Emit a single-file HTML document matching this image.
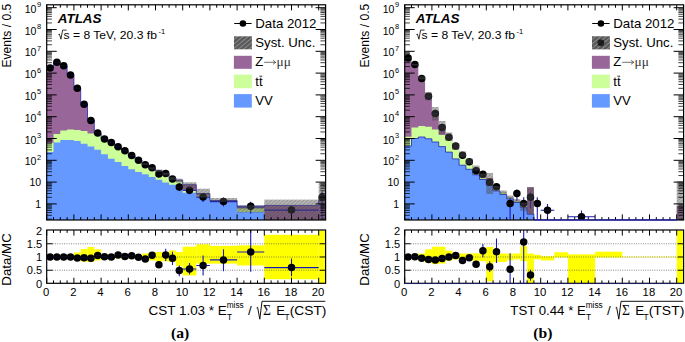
<!DOCTYPE html>
<html><head><meta charset="utf-8"><title>ATLAS plots</title>
<style>html,body{margin:0;padding:0;background:#fff;}svg{display:block;}text{font-family:"Liberation Sans",sans-serif;}</style></head><body>
<svg width="685" height="342" viewBox="0 0 685 342">
<defs><pattern id="hatch" width="2.6" height="2.6" patternUnits="userSpaceOnUse" patternTransform="rotate(-40)"><rect width="2.6" height="2.6" fill="#505050" fill-opacity="0.40"/><rect width="2.6" height="1.0" fill="#3c3c3c" fill-opacity="0.30"/></pattern><pattern id="hatchL" width="3.4" height="3.4" patternUnits="userSpaceOnUse" patternTransform="rotate(-40)"><rect width="3.4" height="3.4" fill="#5a5a5a"/><rect width="3.4" height="0.9" fill="#8e8e8e"/></pattern></defs>
<rect width="685" height="342" fill="#fff"/>
<g>
<clipPath id="cua"><rect x="46.7" y="4.8" width="278.9" height="215.2"/></clipPath>
<clipPath id="cla"><rect x="46.7" y="230" width="278.9" height="53.3"/></clipPath>
<g clip-path="url(#cua)">
<path d="M46.7 220 L46.7 68.1 L53.5 68.1 L53.5 62.3 L60.3 62.3 L60.3 65.8 L67.1 65.8 L67.1 74.9 L73.9 74.9 L73.9 87.8 L80.7 87.8 L80.7 104 L87.5 104 L87.5 120 L94.3 120 L94.3 133.4 L101.1 133.4 L101.1 139.1 L107.9 139.1 L107.9 142.6 L114.7 142.6 L114.7 147.5 L121.5 147.5 L121.5 151 L128.3 151 L128.3 156 L135.1 156 L135.1 160.1 L141.9 160.1 L141.9 164 L148.7 164 L148.7 168.5 L155.5 168.5 L155.5 170.8 L162.3 170.8 L162.3 174.1 L169.1 174.1 L169.1 178.6 L175.9 178.6 L175.9 180.2 L182.7 180.2 L182.7 184.7 L196.3 184.7 L196.3 193.6 L209.9 193.6 L209.9 200.5 L237.1 200.5 L237.1 207.3 L264.3 207.3 L264.3 205.4 L318.7 205.4 L318.7 200 L325.5 200 L325.5 220 Z" fill="#996699"/>
<path d="M46.7 220 L46.7 143.1 L53.5 143.1 L53.5 134.1 L60.3 134.1 L60.3 130.6 L67.1 130.6 L67.1 129.4 L73.9 129.4 L73.9 129.9 L80.7 129.9 L80.7 131.1 L87.5 131.1 L87.5 133.4 L94.3 133.4 L94.3 135 L101.1 135 L101.1 139.6 L107.9 139.6 L107.9 143.1 L114.7 143.1 L114.7 148 L121.5 148 L121.5 151.5 L128.3 151.5 L128.3 156.5 L135.1 156.5 L135.1 160.6 L141.9 160.6 L141.9 164.5 L148.7 164.5 L148.7 169 L155.5 169 L155.5 171.3 L162.3 171.3 L162.3 174.6 L169.1 174.6 L169.1 179.1 L175.9 179.1 L175.9 181.5 L182.7 181.5 L182.7 191 L196.3 191 L196.3 195.5 L209.9 195.5 L209.9 200.9 L237.1 200.9 L237.1 208.6 L264.3 208.6 L264.3 220 L318.7 220 L318.7 220 L325.5 220 L325.5 220 Z" fill="#ccff99"/>
<path d="M46.7 220 L46.7 152 L53.5 152 L53.5 142.5 L60.3 142.5 L60.3 140 L67.1 140 L67.1 140 L73.9 140 L73.9 141.1 L80.7 141.1 L80.7 143.7 L87.5 143.7 L87.5 146.6 L94.3 146.6 L94.3 149.8 L101.1 149.8 L101.1 154.3 L107.9 154.3 L107.9 158.7 L114.7 158.7 L114.7 161.9 L121.5 161.9 L121.5 166 L128.3 166 L128.3 169.3 L135.1 169.3 L135.1 172 L141.9 172 L141.9 174.3 L148.7 174.3 L148.7 177 L155.5 177 L155.5 179.8 L162.3 179.8 L162.3 182.5 L169.1 182.5 L169.1 184.8 L175.9 184.8 L175.9 186 L182.7 186 L182.7 192.8 L196.3 192.8 L196.3 196.7 L209.9 196.7 L209.9 201.8 L237.1 201.8 L237.1 212 L264.3 212 L264.3 220 L318.7 220 L318.7 220 L325.5 220 L325.5 220 Z" fill="#6699ff"/>
<path d="M46.7 68.1 L53.5 68.1 L53.5 62.3 L60.3 62.3 L60.3 65.8 L67.1 65.8 L67.1 74.9 L73.9 74.9 L73.9 87.8 L80.7 87.8 L80.7 104 L87.5 104 L87.5 120 L94.3 120 L94.3 133.4 L101.1 133.4 L101.1 139.1 L107.9 139.1 L107.9 142.6 L114.7 142.6 L114.7 147.5 L121.5 147.5 L121.5 151 L128.3 151 L128.3 156 L135.1 156 L135.1 160.1 L141.9 160.1 L141.9 164 L148.7 164 L148.7 168.5 L155.5 168.5 L155.5 170.8 L162.3 170.8 L162.3 174.1 L169.1 174.1 L169.1 178.6 L175.9 178.6 L175.9 180.2 L182.7 180.2 L182.7 184.7 L196.3 184.7 L196.3 193.6 L209.9 193.6 L209.9 200.5 L237.1 200.5 L237.1 207.3 L264.3 207.3 L264.3 205.4 L318.7 205.4 L318.7 200 L325.5 200" fill="none" stroke="#2424b4" stroke-width="0.8"/>
<path d="M158.9 172.1 V176.1 M165.7 171.5 V175.5 M172.5 176.6 V181.6 M179.3 183.4 V190.9 M189.5 187.3 V194.3 M182.7 190.3 H196.3 M203.1 193.1 V202.1 M196.3 197.1 H209.9 M223.5 197.6 V206.6 M209.9 201.6 H237.1 M250.7 201.7 V213.7 M237.1 206.2 H264.3 M291.5 206.1 V216.1 M264.3 210.1 H318.7 M322.1 191.4 V219.4" stroke="#1a1ab8" stroke-width="1.1" fill="none"/>
<circle cx="50.1" cy="68.1" r="3.75" fill="#000"/>
<circle cx="56.9" cy="62.3" r="3.75" fill="#000"/>
<circle cx="63.7" cy="65.8" r="3.75" fill="#000"/>
<circle cx="70.5" cy="74.9" r="3.75" fill="#000"/>
<circle cx="77.3" cy="88.3" r="3.75" fill="#000"/>
<circle cx="84.1" cy="104.3" r="3.75" fill="#000"/>
<circle cx="90.9" cy="120.5" r="3.75" fill="#000"/>
<circle cx="97.7" cy="132.9" r="3.75" fill="#000"/>
<circle cx="104.5" cy="139" r="3.75" fill="#000"/>
<circle cx="111.3" cy="142.6" r="3.75" fill="#000"/>
<circle cx="118.1" cy="146.8" r="3.75" fill="#000"/>
<circle cx="124.9" cy="150.8" r="3.75" fill="#000"/>
<circle cx="131.7" cy="155.5" r="3.75" fill="#000"/>
<circle cx="138.5" cy="160.2" r="3.75" fill="#000"/>
<circle cx="145.3" cy="164.8" r="3.75" fill="#000"/>
<circle cx="152.1" cy="167.8" r="3.75" fill="#000"/>
<circle cx="158.9" cy="174.1" r="3.75" fill="#000"/>
<circle cx="165.7" cy="173.5" r="3.75" fill="#000"/>
<circle cx="172.5" cy="179.1" r="3.75" fill="#000"/>
<circle cx="179.3" cy="186.9" r="3.75" fill="#000"/>
<circle cx="189.5" cy="190.3" r="3.75" fill="#000"/>
<circle cx="203.1" cy="197.1" r="3.75" fill="#000"/>
<circle cx="223.5" cy="201.6" r="3.75" fill="#000"/>
<circle cx="250.7" cy="206.2" r="3.75" fill="#000"/>
<circle cx="291.5" cy="210.1" r="3.75" fill="#000"/>
<circle cx="322.1" cy="197.4" r="3.75" fill="#000"/>
<path d="M46.9 68.1 H53.3 M53.7 62.3 H60.1 M60.5 65.8 H66.9 M67.3 74.9 H73.7 M74.1 88.3 H80.5 M80.9 104.3 H87.3 M87.7 120.5 H94.1 M94.5 132.9 H100.9 M101.3 139 H107.7 M108.1 142.6 H114.5 M114.9 146.8 H121.3 M121.7 150.8 H128.1 M128.5 155.5 H134.9 M135.3 160.2 H141.7 M142.1 164.8 H148.5 M148.9 167.8 H155.3 M155.7 174.1 H162.1 M162.5 173.5 H168.9 M169.3 179.1 H175.7 M176.1 186.9 H182.5 M186.3 190.3 H192.7 M199.9 197.1 H206.3 M220.3 201.6 H226.7 M247.5 206.2 H253.9 M288.3 210.1 H294.7 M318.9 197.4 H325.3" stroke="#20208c" stroke-width="0.9" stroke-opacity="0.35" fill="none"/>
<rect x="141.9" y="163.2" width="6.8" height="1.6" fill="url(#hatch)"/>
<rect x="148.7" y="167.5" width="6.8" height="1.9" fill="url(#hatch)"/>
<rect x="155.5" y="169.5" width="6.8" height="2.5" fill="url(#hatch)"/>
<rect x="162.3" y="172.6" width="6.8" height="2.8" fill="url(#hatch)"/>
<rect x="169.1" y="176.8" width="6.8" height="3.4" fill="url(#hatch)"/>
<rect x="175.9" y="178.6" width="6.8" height="4" fill="url(#hatch)"/>
<rect x="182.7" y="182.3" width="13.6" height="6.4" fill="url(#hatch)"/>
<rect x="196.3" y="188.7" width="13.6" height="8.8" fill="url(#hatch)"/>
<rect x="209.9" y="198" width="27.2" height="3.7" fill="url(#hatch)"/>
<rect x="237.1" y="205.3" width="27.2" height="7.2" fill="url(#hatch)"/>
<rect x="264.3" y="199.6" width="54.4" height="20.4" fill="url(#hatch)"/>
<rect x="318.7" y="182.5" width="6.8" height="37.5" fill="url(#hatch)"/>
</g>
<g clip-path="url(#cla)">
<rect x="46.7" y="256.47" width="6.8" height="1.06" fill="#ffff00"/>
<rect x="53.5" y="256.47" width="6.8" height="1.06" fill="#ffff00"/>
<rect x="60.3" y="256.47" width="6.8" height="1.06" fill="#ffff00"/>
<rect x="67.1" y="256.21" width="6.8" height="1.59" fill="#ffff00"/>
<rect x="73.9" y="252.5" width="6.8" height="8.46" fill="#ffff00"/>
<rect x="80.7" y="249.06" width="6.8" height="12.43" fill="#ffff00"/>
<rect x="87.5" y="246.95" width="6.8" height="15.08" fill="#ffff00"/>
<rect x="94.3" y="249.33" width="6.8" height="11.11" fill="#ffff00"/>
<rect x="101.1" y="255.68" width="6.8" height="2.65" fill="#ffff00"/>
<rect x="107.9" y="255.68" width="6.8" height="2.65" fill="#ffff00"/>
<rect x="114.7" y="255.68" width="6.8" height="2.65" fill="#ffff00"/>
<rect x="121.5" y="255.68" width="6.8" height="2.65" fill="#ffff00"/>
<rect x="128.3" y="255.41" width="6.8" height="3.17" fill="#ffff00"/>
<rect x="135.1" y="254.88" width="6.8" height="4.23" fill="#ffff00"/>
<rect x="141.9" y="253.56" width="6.8" height="6.08" fill="#ffff00"/>
<rect x="148.7" y="251.97" width="6.8" height="8.46" fill="#ffff00"/>
<rect x="155.5" y="251.97" width="6.8" height="9.26" fill="#ffff00"/>
<rect x="162.3" y="251.97" width="6.8" height="9.26" fill="#ffff00"/>
<rect x="169.1" y="250.39" width="6.8" height="11.64" fill="#ffff00"/>
<rect x="175.9" y="251.97" width="6.8" height="14.28" fill="#ffff00"/>
<rect x="182.7" y="246.68" width="13.6" height="28.83" fill="#ffff00"/>
<rect x="196.3" y="244.3" width="13.6" height="19.31" fill="#ffff00"/>
<rect x="209.9" y="245.89" width="27.2" height="17.72" fill="#ffff00"/>
<rect x="237.1" y="245.36" width="27.2" height="20.1" fill="#ffff00"/>
<rect x="264.3" y="234.78" width="54.4" height="44.44" fill="#ffff00"/>
<rect x="318.7" y="230.55" width="6.8" height="55.54" fill="#ffff00"/>
</g>
<path d="M52.7 270.22 H319.6" stroke="#3a3a3a" stroke-width="0.8" stroke-opacity="0.85" stroke-dasharray="0.9 1.4" fill="none"/>
<path d="M52.7 257 H319.6" stroke="#3a3a3a" stroke-width="0.8" stroke-opacity="0.85" stroke-dasharray="0.9 1.4" fill="none"/>
<path d="M52.7 243.77 H319.6" stroke="#3a3a3a" stroke-width="0.8" stroke-opacity="0.85" stroke-dasharray="0.9 1.4" fill="none"/>
<g clip-path="url(#cla)">
<path d="M145.3 257.79 V260.44 M152.1 253.56 V256.74 M158.9 262.03 V267.32 M165.7 248.8 V260.97 M172.5 251.71 V264.94 M179.3 265.46 V276.31 M189.5 262.95 V274.59 M182.7 269.03 H196.3 M203.1 255.41 V275.51 M196.3 265.46 H209.9 M223.5 249.33 V271.28 M209.9 259.91 H237.1 M250.7 228.17 V271.81 M237.1 251.97 H264.3 M291.5 258.59 V276.31 M264.3 267.58 H318.7" stroke="#1a1ab8" stroke-width="1.1" fill="none"/>
<circle cx="50.1" cy="257" r="3.75" fill="#000"/>
<circle cx="56.9" cy="257" r="3.75" fill="#000"/>
<circle cx="63.7" cy="257" r="3.75" fill="#000"/>
<circle cx="70.5" cy="257" r="3.75" fill="#000"/>
<circle cx="77.3" cy="258.06" r="3.75" fill="#000"/>
<circle cx="84.1" cy="257.79" r="3.75" fill="#000"/>
<circle cx="90.9" cy="258.32" r="3.75" fill="#000"/>
<circle cx="97.7" cy="255.41" r="3.75" fill="#000"/>
<circle cx="104.5" cy="256.74" r="3.75" fill="#000"/>
<circle cx="111.3" cy="257" r="3.75" fill="#000"/>
<circle cx="118.1" cy="254.88" r="3.75" fill="#000"/>
<circle cx="124.9" cy="256.47" r="3.75" fill="#000"/>
<circle cx="131.7" cy="255.68" r="3.75" fill="#000"/>
<circle cx="138.5" cy="257.26" r="3.75" fill="#000"/>
<circle cx="145.3" cy="259.12" r="3.75" fill="#000"/>
<circle cx="152.1" cy="255.15" r="3.75" fill="#000"/>
<circle cx="158.9" cy="264.67" r="3.75" fill="#000"/>
<circle cx="165.7" cy="254.88" r="3.75" fill="#000"/>
<circle cx="172.5" cy="258.32" r="3.75" fill="#000"/>
<circle cx="179.3" cy="270.49" r="3.75" fill="#000"/>
<circle cx="189.5" cy="269.03" r="3.75" fill="#000"/>
<circle cx="203.1" cy="265.46" r="3.75" fill="#000"/>
<circle cx="223.5" cy="259.91" r="3.75" fill="#000"/>
<circle cx="250.7" cy="251.97" r="3.75" fill="#000"/>
<circle cx="291.5" cy="267.58" r="3.75" fill="#000"/>
<path d="M46.9 257 H53.3 M53.7 257 H60.1 M60.5 257 H66.9 M67.3 257 H73.7 M74.1 258.06 H80.5 M80.9 257.79 H87.3 M87.7 258.32 H94.1 M94.5 255.41 H100.9 M101.3 256.74 H107.7 M108.1 257 H114.5 M114.9 254.88 H121.3 M121.7 256.47 H128.1 M128.5 255.68 H134.9 M135.3 257.26 H141.7 M142.1 259.12 H148.5 M148.9 255.15 H155.3 M155.7 264.67 H162.1 M162.5 254.88 H168.9 M169.3 258.32 H175.7 M176.1 270.49 H182.5 M186.3 269.03 H192.7 M199.9 265.46 H206.3 M220.3 259.91 H226.7 M247.5 251.97 H253.9 M288.3 267.58 H294.7" stroke="#20208c" stroke-width="0.9" stroke-opacity="0.35" fill="none"/>
</g>
<path d="M46.7 219.14 H51.9 M325.6 219.14 H320.4 M46.7 215.3 H51.9 M325.6 215.3 H320.4 M46.7 212.58 H51.9 M325.6 212.58 H320.4 M46.7 210.46 H51.9 M325.6 210.46 H320.4 M46.7 208.74 H51.9 M325.6 208.74 H320.4 M46.7 207.28 H51.9 M325.6 207.28 H320.4 M46.7 206.01 H51.9 M325.6 206.01 H320.4 M46.7 204.9 H51.9 M325.6 204.9 H320.4 M46.7 197.34 H51.9 M325.6 197.34 H320.4 M46.7 193.5 H51.9 M325.6 193.5 H320.4 M46.7 190.78 H51.9 M325.6 190.78 H320.4 M46.7 188.66 H51.9 M325.6 188.66 H320.4 M46.7 186.94 H51.9 M325.6 186.94 H320.4 M46.7 185.48 H51.9 M325.6 185.48 H320.4 M46.7 184.21 H51.9 M325.6 184.21 H320.4 M46.7 183.1 H51.9 M325.6 183.1 H320.4 M46.7 175.54 H51.9 M325.6 175.54 H320.4 M46.7 171.7 H51.9 M325.6 171.7 H320.4 M46.7 168.98 H51.9 M325.6 168.98 H320.4 M46.7 166.86 H51.9 M325.6 166.86 H320.4 M46.7 165.14 H51.9 M325.6 165.14 H320.4 M46.7 163.68 H51.9 M325.6 163.68 H320.4 M46.7 162.41 H51.9 M325.6 162.41 H320.4 M46.7 161.3 H51.9 M325.6 161.3 H320.4 M46.7 153.74 H51.9 M325.6 153.74 H320.4 M46.7 149.9 H51.9 M325.6 149.9 H320.4 M46.7 147.18 H51.9 M325.6 147.18 H320.4 M46.7 145.06 H51.9 M325.6 145.06 H320.4 M46.7 143.34 H51.9 M325.6 143.34 H320.4 M46.7 141.88 H51.9 M325.6 141.88 H320.4 M46.7 140.61 H51.9 M325.6 140.61 H320.4 M46.7 139.5 H51.9 M325.6 139.5 H320.4 M46.7 131.94 H51.9 M325.6 131.94 H320.4 M46.7 128.1 H51.9 M325.6 128.1 H320.4 M46.7 125.38 H51.9 M325.6 125.38 H320.4 M46.7 123.26 H51.9 M325.6 123.26 H320.4 M46.7 121.54 H51.9 M325.6 121.54 H320.4 M46.7 120.08 H51.9 M325.6 120.08 H320.4 M46.7 118.81 H51.9 M325.6 118.81 H320.4 M46.7 117.7 H51.9 M325.6 117.7 H320.4 M46.7 110.14 H51.9 M325.6 110.14 H320.4 M46.7 106.3 H51.9 M325.6 106.3 H320.4 M46.7 103.58 H51.9 M325.6 103.58 H320.4 M46.7 101.46 H51.9 M325.6 101.46 H320.4 M46.7 99.74 H51.9 M325.6 99.74 H320.4 M46.7 98.28 H51.9 M325.6 98.28 H320.4 M46.7 97.01 H51.9 M325.6 97.01 H320.4 M46.7 95.9 H51.9 M325.6 95.9 H320.4 M46.7 88.34 H51.9 M325.6 88.34 H320.4 M46.7 84.5 H51.9 M325.6 84.5 H320.4 M46.7 81.78 H51.9 M325.6 81.78 H320.4 M46.7 79.66 H51.9 M325.6 79.66 H320.4 M46.7 77.94 H51.9 M325.6 77.94 H320.4 M46.7 76.48 H51.9 M325.6 76.48 H320.4 M46.7 75.21 H51.9 M325.6 75.21 H320.4 M46.7 74.1 H51.9 M325.6 74.1 H320.4 M46.7 66.54 H51.9 M325.6 66.54 H320.4 M46.7 62.7 H51.9 M325.6 62.7 H320.4 M46.7 59.98 H51.9 M325.6 59.98 H320.4 M46.7 57.86 H51.9 M325.6 57.86 H320.4 M46.7 56.14 H51.9 M325.6 56.14 H320.4 M46.7 54.68 H51.9 M325.6 54.68 H320.4 M46.7 53.41 H51.9 M325.6 53.41 H320.4 M46.7 52.3 H51.9 M325.6 52.3 H320.4 M46.7 44.74 H51.9 M325.6 44.74 H320.4 M46.7 40.9 H51.9 M325.6 40.9 H320.4 M46.7 38.18 H51.9 M325.6 38.18 H320.4 M46.7 36.06 H51.9 M325.6 36.06 H320.4 M46.7 34.34 H51.9 M325.6 34.34 H320.4 M46.7 32.88 H51.9 M325.6 32.88 H320.4 M46.7 31.61 H51.9 M325.6 31.61 H320.4 M46.7 30.5 H51.9 M325.6 30.5 H320.4 M46.7 22.94 H51.9 M325.6 22.94 H320.4 M46.7 19.1 H51.9 M325.6 19.1 H320.4 M46.7 16.38 H51.9 M325.6 16.38 H320.4 M46.7 14.26 H51.9 M325.6 14.26 H320.4 M46.7 12.54 H51.9 M325.6 12.54 H320.4 M46.7 11.08 H51.9 M325.6 11.08 H320.4 M46.7 9.81 H51.9 M325.6 9.81 H320.4 M46.7 8.7 H51.9 M325.6 8.7 H320.4" stroke="#000" stroke-width="0.75" fill="none"/>
<path d="M46.7 220 V214.4 M46.7 4.8 V10.4 M46.7 283.3 V277.7 M46.7 230 V235.6 M53.5 220 V217.1 M53.5 4.8 V7.7 M53.5 283.3 V280.4 M53.5 230 V232.9 M60.3 220 V217.1 M60.3 4.8 V7.7 M60.3 283.3 V280.4 M60.3 230 V232.9 M67.1 220 V217.1 M67.1 4.8 V7.7 M67.1 283.3 V280.4 M67.1 230 V232.9 M73.9 220 V214.4 M73.9 4.8 V10.4 M73.9 283.3 V277.7 M73.9 230 V235.6 M80.7 220 V217.1 M80.7 4.8 V7.7 M80.7 283.3 V280.4 M80.7 230 V232.9 M87.5 220 V217.1 M87.5 4.8 V7.7 M87.5 283.3 V280.4 M87.5 230 V232.9 M94.3 220 V217.1 M94.3 4.8 V7.7 M94.3 283.3 V280.4 M94.3 230 V232.9 M101.1 220 V214.4 M101.1 4.8 V10.4 M101.1 283.3 V277.7 M101.1 230 V235.6 M107.9 220 V217.1 M107.9 4.8 V7.7 M107.9 283.3 V280.4 M107.9 230 V232.9 M114.7 220 V217.1 M114.7 4.8 V7.7 M114.7 283.3 V280.4 M114.7 230 V232.9 M121.5 220 V217.1 M121.5 4.8 V7.7 M121.5 283.3 V280.4 M121.5 230 V232.9 M128.3 220 V214.4 M128.3 4.8 V10.4 M128.3 283.3 V277.7 M128.3 230 V235.6 M135.1 220 V217.1 M135.1 4.8 V7.7 M135.1 283.3 V280.4 M135.1 230 V232.9 M141.9 220 V217.1 M141.9 4.8 V7.7 M141.9 283.3 V280.4 M141.9 230 V232.9 M148.7 220 V217.1 M148.7 4.8 V7.7 M148.7 283.3 V280.4 M148.7 230 V232.9 M155.5 220 V214.4 M155.5 4.8 V10.4 M155.5 283.3 V277.7 M155.5 230 V235.6 M162.3 220 V217.1 M162.3 4.8 V7.7 M162.3 283.3 V280.4 M162.3 230 V232.9 M169.1 220 V217.1 M169.1 4.8 V7.7 M169.1 283.3 V280.4 M169.1 230 V232.9 M175.9 220 V217.1 M175.9 4.8 V7.7 M175.9 283.3 V280.4 M175.9 230 V232.9 M182.7 220 V214.4 M182.7 4.8 V10.4 M182.7 283.3 V277.7 M182.7 230 V235.6 M189.5 220 V217.1 M189.5 4.8 V7.7 M189.5 283.3 V280.4 M189.5 230 V232.9 M196.3 220 V217.1 M196.3 4.8 V7.7 M196.3 283.3 V280.4 M196.3 230 V232.9 M203.1 220 V217.1 M203.1 4.8 V7.7 M203.1 283.3 V280.4 M203.1 230 V232.9 M209.9 220 V214.4 M209.9 4.8 V10.4 M209.9 283.3 V277.7 M209.9 230 V235.6 M216.7 220 V217.1 M216.7 4.8 V7.7 M216.7 283.3 V280.4 M216.7 230 V232.9 M223.5 220 V217.1 M223.5 4.8 V7.7 M223.5 283.3 V280.4 M223.5 230 V232.9 M230.3 220 V217.1 M230.3 4.8 V7.7 M230.3 283.3 V280.4 M230.3 230 V232.9 M237.1 220 V214.4 M237.1 4.8 V10.4 M237.1 283.3 V277.7 M237.1 230 V235.6 M243.9 220 V217.1 M243.9 4.8 V7.7 M243.9 283.3 V280.4 M243.9 230 V232.9 M250.7 220 V217.1 M250.7 4.8 V7.7 M250.7 283.3 V280.4 M250.7 230 V232.9 M257.5 220 V217.1 M257.5 4.8 V7.7 M257.5 283.3 V280.4 M257.5 230 V232.9 M264.3 220 V214.4 M264.3 4.8 V10.4 M264.3 283.3 V277.7 M264.3 230 V235.6 M271.1 220 V217.1 M271.1 4.8 V7.7 M271.1 283.3 V280.4 M271.1 230 V232.9 M277.9 220 V217.1 M277.9 4.8 V7.7 M277.9 283.3 V280.4 M277.9 230 V232.9 M284.7 220 V217.1 M284.7 4.8 V7.7 M284.7 283.3 V280.4 M284.7 230 V232.9 M291.5 220 V214.4 M291.5 4.8 V10.4 M291.5 283.3 V277.7 M291.5 230 V235.6 M298.3 220 V217.1 M298.3 4.8 V7.7 M298.3 283.3 V280.4 M298.3 230 V232.9 M305.1 220 V217.1 M305.1 4.8 V7.7 M305.1 283.3 V280.4 M305.1 230 V232.9 M311.9 220 V217.1 M311.9 4.8 V7.7 M311.9 283.3 V280.4 M311.9 230 V232.9 M318.7 220 V214.4 M318.7 4.8 V10.4 M318.7 283.3 V277.7 M318.7 230 V235.6 M46.7 203.9 H56.7 M325.6 203.9 H315.6 M46.7 182.1 H56.7 M325.6 182.1 H315.6 M46.7 160.3 H56.7 M325.6 160.3 H315.6 M46.7 138.5 H56.7 M325.6 138.5 H315.6 M46.7 116.7 H56.7 M325.6 116.7 H315.6 M46.7 94.9 H56.7 M325.6 94.9 H315.6 M46.7 73.1 H56.7 M325.6 73.1 H315.6 M46.7 51.3 H56.7 M325.6 51.3 H315.6 M46.7 29.5 H56.7 M325.6 29.5 H315.6 M46.7 7.7 H56.7 M325.6 7.7 H315.6 M46.7 270.22 H52.7 M325.6 270.22 H319.6 M46.7 257 H52.7 M325.6 257 H319.6 M46.7 243.77 H52.7 M325.6 243.77 H319.6" stroke="#000" stroke-width="1" fill="none"/>
<g stroke="#000" stroke-width="1.2" fill="none">
<rect x="46.7" y="4.8" width="278.9" height="215.2"/>
<rect x="46.7" y="230" width="278.9" height="53.3"/>
</g>
<g font-family="Liberation Sans, sans-serif" fill="#000">
<text x="41.2" y="208.2" font-size="10.5" text-anchor="end">1</text>
<text x="41.2" y="186.4" font-size="10.5" text-anchor="end">10</text>
<text x="36.4" y="165.3" font-size="10.5" text-anchor="end">10</text>
<text x="37.0" y="159.7" font-size="7.4">2</text>
<text x="36.4" y="143.5" font-size="10.5" text-anchor="end">10</text>
<text x="37.0" y="137.9" font-size="7.4">3</text>
<text x="36.4" y="121.7" font-size="10.5" text-anchor="end">10</text>
<text x="37.0" y="116.1" font-size="7.4">4</text>
<text x="36.4" y="99.9" font-size="10.5" text-anchor="end">10</text>
<text x="37.0" y="94.3" font-size="7.4">5</text>
<text x="36.4" y="78.1" font-size="10.5" text-anchor="end">10</text>
<text x="37.0" y="72.5" font-size="7.4">6</text>
<text x="36.4" y="56.3" font-size="10.5" text-anchor="end">10</text>
<text x="37.0" y="50.7" font-size="7.4">7</text>
<text x="36.4" y="34.5" font-size="10.5" text-anchor="end">10</text>
<text x="37.0" y="28.9" font-size="7.4">8</text>
<text x="36.4" y="12.7" font-size="10.5" text-anchor="end">10</text>
<text x="37.0" y="7.1" font-size="7.4">9</text>
<text x="42.2" y="287.5" font-size="11.1" text-anchor="end">0</text>
<text x="42.2" y="274.3" font-size="11.1" text-anchor="end">0.5</text>
<text x="42.2" y="261.1" font-size="11.1" text-anchor="end">1</text>
<text x="42.2" y="248" font-size="11.1" text-anchor="end">1.5</text>
<text x="42.2" y="234.9" font-size="11.1" text-anchor="end">2</text>
<text x="46.1" y="295.5" font-size="11.3" text-anchor="middle">0</text>
<text x="73.3" y="295.5" font-size="11.3" text-anchor="middle">2</text>
<text x="100.5" y="295.5" font-size="11.3" text-anchor="middle">4</text>
<text x="127.7" y="295.5" font-size="11.3" text-anchor="middle">6</text>
<text x="154.9" y="295.5" font-size="11.3" text-anchor="middle">8</text>
<text x="182.1" y="295.5" font-size="11.3" text-anchor="middle">10</text>
<text x="209.3" y="295.5" font-size="11.3" text-anchor="middle">12</text>
<text x="236.5" y="295.5" font-size="11.3" text-anchor="middle">14</text>
<text x="263.7" y="295.5" font-size="11.3" text-anchor="middle">16</text>
<text x="290.9" y="295.5" font-size="11.3" text-anchor="middle">18</text>
<text x="318.1" y="295.5" font-size="11.3" text-anchor="middle">20</text>
<text transform="translate(11.1 67.6) rotate(-90)" font-size="12.1">Events / 0.5</text>
<text transform="translate(11.4 285.7) rotate(-90)" font-size="13.3">Data/MC</text>
<text x="57.8" y="22.9" font-size="13.4" font-weight="bold" font-style="italic">ATLAS</text>
<path d="M58.4 34.6 L59.4 34.0 L60.9 39.2 L62.6 30.1 H66.6" stroke="#000" stroke-width="0.8" fill="none"/>
<text x="63.5" y="39.2" font-size="11.8" textLength="93.4" lengthAdjust="spacingAndGlyphs">s = 8 TeV, 20.3 fb</text>
<text x="158.4" y="33.6" font-size="7.6">-1</text>
<text x="148.5" y="315.4" font-size="13.3" textLength="78.3" lengthAdjust="spacingAndGlyphs">CST 1.03 * E</text>
<text x="226.7" y="307.8" font-size="8.3">miss</text>
<text x="227" y="320.1" font-size="8.3">T</text>
<text x="248" y="315.4" font-size="13.3">/</text>
<path d="M256.6 307.9 L257.6 307.3 L259.8 319.2 L262 301.3 H325.3" stroke="#111" stroke-width="1" fill="none" stroke-linejoin="miter"/>
<text x="263.1" y="315.4" font-size="13.6" style="font-family:'Liberation Serif',serif">&#931;</text>
<text x="276.3" y="315.4" font-size="13.3">E</text>
<text x="284.6" y="320.1" font-size="8.3">T</text>
<text x="289.7" y="315.4" font-size="13.3" textLength="36.7" lengthAdjust="spacingAndGlyphs">(CST)</text>
</g>
<g font-family="Liberation Sans, sans-serif" fill="#000" font-size="13.1">
<path d="M234.2 23.5 H251.6" stroke="#000" stroke-width="1"/>
<circle cx="242.9" cy="23.5" r="3.3" fill="#000"/>
<text x="255.3" y="27.5" textLength="61.2" lengthAdjust="spacingAndGlyphs">Data 2012</text>
<rect x="234" y="36.3" width="17.9" height="13" fill="url(#hatchL)"/>
<text x="255.3" y="47.1" textLength="60" lengthAdjust="spacingAndGlyphs">Syst. Unc.</text>
<rect x="233.9" y="55.8" width="17.9" height="13" fill="#996699"/>
<text x="255.3" y="66.1">Z</text>
<path d="M264.2 62.3 H275.6 M273 60.3 L275.8 62.3 L273 64.3" stroke="#333" stroke-width="0.7" fill="none"/>
<text x="276.6" y="66" font-size="13.4" fill="#333" style="font-family:'Liberation Serif',serif">&#956;&#956;</text>
<rect x="233.9" y="74.6" width="17.9" height="13.6" fill="#ccff99"/>
<text x="255.3" y="86.2">tt</text>
<path d="M259.4 76.2 H262.2" stroke="#000" stroke-width="0.8"/>
<rect x="233.9" y="94.1" width="17.9" height="13.5" fill="#6699ff"/>
<text x="255.3" y="105.2">VV</text>
</g>
</g>
<g transform="translate(358 0)">
<clipPath id="cub"><rect x="46.7" y="4.8" width="278.9" height="215.2"/></clipPath>
<clipPath id="clb"><rect x="46.7" y="230" width="278.9" height="53.3"/></clipPath>
<g clip-path="url(#cub)">
<path d="M46.7 220 L46.7 58.1 L53.5 58.1 L53.5 64.7 L60.3 64.7 L60.3 77.9 L67.1 77.9 L67.1 93.8 L73.9 93.8 L73.9 111.5 L80.7 111.5 L80.7 124.5 L87.5 124.5 L87.5 137.3 L94.3 137.3 L94.3 146.6 L101.1 146.6 L101.1 154 L107.9 154 L107.9 161.4 L114.7 161.4 L114.7 167.8 L121.5 167.8 L121.5 176.3 L128.3 176.3 L128.3 178 L135.1 178 L135.1 188.4 L141.9 188.4 L141.9 192.3 L148.7 192.3 L148.7 197 L155.5 197 L155.5 200.8 L162.3 200.8 L162.3 207 L169.1 207 L169.1 187.2 L175.9 187.2 L175.9 220 L182.7 220 L182.7 220 L196.3 220 L196.3 220 L209.9 220 L209.9 220 L237.1 220 L237.1 220 L264.3 220 L264.3 220 L318.7 220 L318.7 206 L325.5 206 L325.5 220 Z" fill="#996699"/>
<path d="M46.7 220 L46.7 136.7 L53.5 136.7 L53.5 127.6 L60.3 127.6 L60.3 126 L67.1 126 L67.1 126.8 L73.9 126.8 L73.9 129.4 L80.7 129.4 L80.7 135 L87.5 135 L87.5 140 L94.3 140 L94.3 149.5 L101.1 149.5 L101.1 157.5 L107.9 157.5 L107.9 164 L114.7 164 L114.7 170.5 L121.5 170.5 L121.5 177.5 L128.3 177.5 L128.3 183 L135.1 183 L135.1 188.8 L141.9 188.8 L141.9 192.3 L148.7 192.3 L148.7 197.5 L155.5 197.5 L155.5 201.2 L162.3 201.2 L162.3 207 L169.1 207 L169.1 214.2 L175.9 214.2 L175.9 220 L182.7 220 L182.7 220 L196.3 220 L196.3 220 L209.9 220 L209.9 220 L237.1 220 L237.1 220 L264.3 220 L264.3 220 L318.7 220 L318.7 220 L325.5 220 L325.5 220 Z" fill="#ccff99"/>
<path d="M46.7 220 L46.7 146 L53.5 146 L53.5 138.5 L60.3 138.5 L60.3 137 L67.1 137 L67.1 138.8 L73.9 138.8 L73.9 142 L80.7 142 L80.7 146.6 L87.5 146.6 L87.5 152.1 L94.3 152.1 L94.3 158.9 L101.1 158.9 L101.1 165.2 L107.9 165.2 L107.9 169.3 L114.7 169.3 L114.7 174.8 L121.5 174.8 L121.5 179.5 L128.3 179.5 L128.3 185.5 L135.1 185.5 L135.1 190.9 L141.9 190.9 L141.9 194.5 L148.7 194.5 L148.7 198.9 L155.5 198.9 L155.5 202.5 L162.3 202.5 L162.3 207.6 L169.1 207.6 L169.1 214.2 L175.9 214.2 L175.9 220 L182.7 220 L182.7 220 L196.3 220 L196.3 220 L209.9 220 L209.9 220 L237.1 220 L237.1 220 L264.3 220 L264.3 220 L318.7 220 L318.7 220 L325.5 220 L325.5 220 Z" fill="#6699ff"/>
<path d="M46.7 146 L53.5 146 L53.5 138.5 L60.3 138.5 L60.3 137 L67.1 137 L67.1 138.8 L73.9 138.8 L73.9 142 L80.7 142 L80.7 146.6 L87.5 146.6 L87.5 152.1 L94.3 152.1 L94.3 158.9 L101.1 158.9 L101.1 165.2 L107.9 165.2 L107.9 169.3 L114.7 169.3 L114.7 174.8 L121.5 174.8 L121.5 179.5 L128.3 179.5 L128.3 185.5 L135.1 185.5 L135.1 190.9 L141.9 190.9 L141.9 194.5 L148.7 194.5 L148.7 198.9 L155.5 198.9 L155.5 202.5 L162.3 202.5 L162.3 207.6 L169.1 207.6 L169.1 214.2 L175.9 214.2 L175.9 219.8 L182.7 219.8 L182.7 219.8 L196.3 219.8 L196.3 219.8 L209.9 219.8 L209.9 219.8 L237.1 219.8 L237.1 219.8 L264.3 219.8 L264.3 219.8 L318.7 219.8 L318.7 219.8 L325.5 219.8" fill="none" stroke="#2424b4" stroke-width="0.8"/>
<path d="M131.7 180.2 V184.7 M138.5 183.7 V190.2 M152.1 198.1 V219.6 M158.9 189.4 V200.9 M165.7 197.3 V219.6 M172.5 192.7 V208.2 M179.3 197.3 V219.6 M189.5 203.9 V220.2 M182.7 210.2 H196.3 M223.5 210.5 V219.8 M209.9 216.8 H237.1" stroke="#1a1ab8" stroke-width="1.1" fill="none"/>
<circle cx="50.1" cy="58.1" r="3.75" fill="#000"/>
<circle cx="56.9" cy="64.6" r="3.75" fill="#000"/>
<circle cx="63.7" cy="78.4" r="3.75" fill="#000"/>
<circle cx="70.5" cy="96.3" r="3.75" fill="#000"/>
<circle cx="77.3" cy="113.5" r="3.75" fill="#000"/>
<circle cx="84.1" cy="127.4" r="3.75" fill="#000"/>
<circle cx="90.9" cy="137.3" r="3.75" fill="#000"/>
<circle cx="97.7" cy="146" r="3.75" fill="#000"/>
<circle cx="104.5" cy="155.3" r="3.75" fill="#000"/>
<circle cx="111.3" cy="161.7" r="3.75" fill="#000"/>
<circle cx="118.1" cy="170.8" r="3.75" fill="#000"/>
<circle cx="124.9" cy="174.3" r="3.75" fill="#000"/>
<circle cx="131.7" cy="182.2" r="3.75" fill="#000"/>
<circle cx="138.5" cy="186.7" r="3.75" fill="#000"/>
<circle cx="152.1" cy="203.6" r="3.75" fill="#000"/>
<circle cx="158.9" cy="193.4" r="3.75" fill="#000"/>
<circle cx="165.7" cy="203.6" r="3.75" fill="#000"/>
<circle cx="172.5" cy="197.2" r="3.75" fill="#000"/>
<circle cx="179.3" cy="203.6" r="3.75" fill="#000"/>
<circle cx="189.5" cy="210.2" r="3.75" fill="#000"/>
<circle cx="223.5" cy="216.8" r="3.75" fill="#000"/>
<path d="M46.9 58.1 H53.3 M53.7 64.6 H60.1 M60.5 78.4 H66.9 M67.3 96.3 H73.7 M74.1 113.5 H80.5 M80.9 127.4 H87.3 M87.7 137.3 H94.1 M94.5 146 H100.9 M101.3 155.3 H107.7 M108.1 161.7 H114.5 M114.9 170.8 H121.3 M121.7 174.3 H128.1 M128.5 182.2 H134.9 M135.3 186.7 H141.7 M148.9 203.6 H155.3 M155.7 193.4 H162.1 M162.5 203.6 H168.9 M169.3 197.2 H175.7 M176.1 203.6 H182.5 M186.3 210.2 H192.7 M220.3 216.8 H226.7" stroke="#20208c" stroke-width="0.9" stroke-opacity="0.35" fill="none"/>
<rect x="46.7" y="57.5" width="6.8" height="1.2" fill="url(#hatch)"/>
<rect x="53.5" y="63.9" width="6.8" height="1.6" fill="url(#hatch)"/>
<rect x="60.3" y="76.2" width="6.8" height="3.4" fill="url(#hatch)"/>
<rect x="67.1" y="92.2" width="6.8" height="8.2" fill="url(#hatch)"/>
<rect x="73.9" y="107" width="6.8" height="13.5" fill="url(#hatch)"/>
<rect x="80.7" y="121" width="6.8" height="13" fill="url(#hatch)"/>
<rect x="87.5" y="132.5" width="6.8" height="8.5" fill="url(#hatch)"/>
<rect x="94.3" y="143" width="6.8" height="6.5" fill="url(#hatch)"/>
<rect x="101.1" y="151.5" width="6.8" height="6" fill="url(#hatch)"/>
<rect x="107.9" y="158.5" width="6.8" height="5.5" fill="url(#hatch)"/>
<rect x="114.7" y="165.5" width="6.8" height="5" fill="url(#hatch)"/>
<rect x="121.5" y="173.5" width="6.8" height="5" fill="url(#hatch)"/>
<rect x="128.3" y="173" width="6.8" height="21" fill="url(#hatch)"/>
<rect x="135.1" y="186" width="6.8" height="5" fill="url(#hatch)"/>
<rect x="141.9" y="190.5" width="6.8" height="3.5" fill="url(#hatch)"/>
<rect x="148.7" y="195.5" width="6.8" height="3.5" fill="url(#hatch)"/>
<rect x="155.5" y="199" width="6.8" height="3.5" fill="url(#hatch)"/>
<rect x="162.3" y="202.5" width="6.8" height="8.5" fill="url(#hatch)"/>
<rect x="169.1" y="187.2" width="6.8" height="27" fill="url(#hatch)"/>
<rect x="318.7" y="181" width="6.8" height="39" fill="url(#hatch)"/>
</g>
<g clip-path="url(#clb)">
<rect x="46.7" y="256.47" width="6.8" height="1.06" fill="#ffff00"/>
<rect x="53.5" y="256.21" width="6.8" height="1.59" fill="#ffff00"/>
<rect x="60.3" y="253.56" width="6.8" height="6.88" fill="#ffff00"/>
<rect x="67.1" y="249.33" width="6.8" height="13.49" fill="#ffff00"/>
<rect x="73.9" y="246.68" width="6.8" height="17.46" fill="#ffff00"/>
<rect x="80.7" y="246.68" width="6.8" height="16.93" fill="#ffff00"/>
<rect x="87.5" y="250.65" width="6.8" height="10.05" fill="#ffff00"/>
<rect x="94.3" y="253.56" width="6.8" height="5.82" fill="#ffff00"/>
<rect x="101.1" y="253.56" width="6.8" height="5.82" fill="#ffff00"/>
<rect x="107.9" y="253.56" width="6.8" height="6.61" fill="#ffff00"/>
<rect x="114.7" y="253.3" width="6.8" height="7.41" fill="#ffff00"/>
<rect x="121.5" y="253.56" width="6.8" height="7.67" fill="#ffff00"/>
<rect x="128.3" y="246.95" width="6.8" height="34.39" fill="#ffff00"/>
<rect x="135.1" y="253.56" width="6.8" height="8.46" fill="#ffff00"/>
<rect x="141.9" y="253.56" width="6.8" height="8.46" fill="#ffff00"/>
<rect x="148.7" y="253.56" width="6.8" height="6.88" fill="#ffff00"/>
<rect x="155.5" y="253.56" width="6.8" height="5.82" fill="#ffff00"/>
<rect x="162.3" y="246.16" width="6.8" height="15.08" fill="#ffff00"/>
<rect x="169.1" y="253.56" width="6.8" height="29.89" fill="#ffff00"/>
<rect x="175.9" y="254.88" width="6.8" height="4.5" fill="#ffff00"/>
<rect x="182.7" y="256.21" width="13.6" height="4.23" fill="#ffff00"/>
<rect x="196.3" y="252.24" width="13.6" height="5.29" fill="#ffff00"/>
<rect x="209.9" y="254.35" width="27.2" height="29.09" fill="#ffff00"/>
<rect x="237.1" y="251.71" width="27.2" height="5.82" fill="#ffff00"/>
<rect x="264.3" y="256.68" width="54.4" height="0.63" fill="#ffff00"/>
<rect x="318.7" y="230.55" width="6.8" height="55.54" fill="#ffff00"/>
</g>
<path d="M52.7 270.22 H319.6" stroke="#3a3a3a" stroke-width="0.8" stroke-opacity="0.85" stroke-dasharray="0.9 1.4" fill="none"/>
<path d="M52.7 257 H319.6" stroke="#3a3a3a" stroke-width="0.8" stroke-opacity="0.85" stroke-dasharray="0.9 1.4" fill="none"/>
<path d="M52.7 243.77 H319.6" stroke="#3a3a3a" stroke-width="0.8" stroke-opacity="0.85" stroke-dasharray="0.9 1.4" fill="none"/>
<g clip-path="url(#clb)">
<path d="M118.1 262.03 V266.26 M124.9 244.04 V257.26 M131.7 261.23 V272.08 M138.5 238.48 V263.08 M152.1 253.3 V285.04 M165.7 228.7 V284.24 M172.5 269.7 V280.81" stroke="#1a1ab8" stroke-width="1.1" fill="none"/>
<circle cx="50.1" cy="257" r="3.75" fill="#000"/>
<circle cx="56.9" cy="256.74" r="3.75" fill="#000"/>
<circle cx="63.7" cy="258.32" r="3.75" fill="#000"/>
<circle cx="70.5" cy="259.51" r="3.75" fill="#000"/>
<circle cx="77.3" cy="259.91" r="3.75" fill="#000"/>
<circle cx="84.1" cy="258.59" r="3.75" fill="#000"/>
<circle cx="90.9" cy="257" r="3.75" fill="#000"/>
<circle cx="97.7" cy="255.41" r="3.75" fill="#000"/>
<circle cx="104.5" cy="260.44" r="3.75" fill="#000"/>
<circle cx="111.3" cy="257.79" r="3.75" fill="#000"/>
<circle cx="118.1" cy="264.14" r="3.75" fill="#000"/>
<circle cx="124.9" cy="250.65" r="3.75" fill="#000"/>
<circle cx="131.7" cy="266.79" r="3.75" fill="#000"/>
<circle cx="138.5" cy="251.71" r="3.75" fill="#000"/>
<circle cx="152.1" cy="269.17" r="3.75" fill="#000"/>
<circle cx="165.7" cy="241.92" r="3.75" fill="#000"/>
<circle cx="172.5" cy="274.99" r="3.75" fill="#000"/>
<path d="M46.9 257 H53.3 M53.7 256.74 H60.1 M60.5 258.32 H66.9 M67.3 259.51 H73.7 M74.1 259.91 H80.5 M80.9 258.59 H87.3 M87.7 257 H94.1 M94.5 255.41 H100.9 M101.3 260.44 H107.7 M108.1 257.79 H114.5 M114.9 264.14 H121.3 M121.7 250.65 H128.1 M128.5 266.79 H134.9 M135.3 251.71 H141.7 M148.9 269.17 H155.3 M162.5 241.92 H168.9 M169.3 274.99 H175.7" stroke="#20208c" stroke-width="0.9" stroke-opacity="0.35" fill="none"/>
</g>
<path d="M46.7 219.14 H51.9 M325.6 219.14 H320.4 M46.7 215.3 H51.9 M325.6 215.3 H320.4 M46.7 212.58 H51.9 M325.6 212.58 H320.4 M46.7 210.46 H51.9 M325.6 210.46 H320.4 M46.7 208.74 H51.9 M325.6 208.74 H320.4 M46.7 207.28 H51.9 M325.6 207.28 H320.4 M46.7 206.01 H51.9 M325.6 206.01 H320.4 M46.7 204.9 H51.9 M325.6 204.9 H320.4 M46.7 197.34 H51.9 M325.6 197.34 H320.4 M46.7 193.5 H51.9 M325.6 193.5 H320.4 M46.7 190.78 H51.9 M325.6 190.78 H320.4 M46.7 188.66 H51.9 M325.6 188.66 H320.4 M46.7 186.94 H51.9 M325.6 186.94 H320.4 M46.7 185.48 H51.9 M325.6 185.48 H320.4 M46.7 184.21 H51.9 M325.6 184.21 H320.4 M46.7 183.1 H51.9 M325.6 183.1 H320.4 M46.7 175.54 H51.9 M325.6 175.54 H320.4 M46.7 171.7 H51.9 M325.6 171.7 H320.4 M46.7 168.98 H51.9 M325.6 168.98 H320.4 M46.7 166.86 H51.9 M325.6 166.86 H320.4 M46.7 165.14 H51.9 M325.6 165.14 H320.4 M46.7 163.68 H51.9 M325.6 163.68 H320.4 M46.7 162.41 H51.9 M325.6 162.41 H320.4 M46.7 161.3 H51.9 M325.6 161.3 H320.4 M46.7 153.74 H51.9 M325.6 153.74 H320.4 M46.7 149.9 H51.9 M325.6 149.9 H320.4 M46.7 147.18 H51.9 M325.6 147.18 H320.4 M46.7 145.06 H51.9 M325.6 145.06 H320.4 M46.7 143.34 H51.9 M325.6 143.34 H320.4 M46.7 141.88 H51.9 M325.6 141.88 H320.4 M46.7 140.61 H51.9 M325.6 140.61 H320.4 M46.7 139.5 H51.9 M325.6 139.5 H320.4 M46.7 131.94 H51.9 M325.6 131.94 H320.4 M46.7 128.1 H51.9 M325.6 128.1 H320.4 M46.7 125.38 H51.9 M325.6 125.38 H320.4 M46.7 123.26 H51.9 M325.6 123.26 H320.4 M46.7 121.54 H51.9 M325.6 121.54 H320.4 M46.7 120.08 H51.9 M325.6 120.08 H320.4 M46.7 118.81 H51.9 M325.6 118.81 H320.4 M46.7 117.7 H51.9 M325.6 117.7 H320.4 M46.7 110.14 H51.9 M325.6 110.14 H320.4 M46.7 106.3 H51.9 M325.6 106.3 H320.4 M46.7 103.58 H51.9 M325.6 103.58 H320.4 M46.7 101.46 H51.9 M325.6 101.46 H320.4 M46.7 99.74 H51.9 M325.6 99.74 H320.4 M46.7 98.28 H51.9 M325.6 98.28 H320.4 M46.7 97.01 H51.9 M325.6 97.01 H320.4 M46.7 95.9 H51.9 M325.6 95.9 H320.4 M46.7 88.34 H51.9 M325.6 88.34 H320.4 M46.7 84.5 H51.9 M325.6 84.5 H320.4 M46.7 81.78 H51.9 M325.6 81.78 H320.4 M46.7 79.66 H51.9 M325.6 79.66 H320.4 M46.7 77.94 H51.9 M325.6 77.94 H320.4 M46.7 76.48 H51.9 M325.6 76.48 H320.4 M46.7 75.21 H51.9 M325.6 75.21 H320.4 M46.7 74.1 H51.9 M325.6 74.1 H320.4 M46.7 66.54 H51.9 M325.6 66.54 H320.4 M46.7 62.7 H51.9 M325.6 62.7 H320.4 M46.7 59.98 H51.9 M325.6 59.98 H320.4 M46.7 57.86 H51.9 M325.6 57.86 H320.4 M46.7 56.14 H51.9 M325.6 56.14 H320.4 M46.7 54.68 H51.9 M325.6 54.68 H320.4 M46.7 53.41 H51.9 M325.6 53.41 H320.4 M46.7 52.3 H51.9 M325.6 52.3 H320.4 M46.7 44.74 H51.9 M325.6 44.74 H320.4 M46.7 40.9 H51.9 M325.6 40.9 H320.4 M46.7 38.18 H51.9 M325.6 38.18 H320.4 M46.7 36.06 H51.9 M325.6 36.06 H320.4 M46.7 34.34 H51.9 M325.6 34.34 H320.4 M46.7 32.88 H51.9 M325.6 32.88 H320.4 M46.7 31.61 H51.9 M325.6 31.61 H320.4 M46.7 30.5 H51.9 M325.6 30.5 H320.4 M46.7 22.94 H51.9 M325.6 22.94 H320.4 M46.7 19.1 H51.9 M325.6 19.1 H320.4 M46.7 16.38 H51.9 M325.6 16.38 H320.4 M46.7 14.26 H51.9 M325.6 14.26 H320.4 M46.7 12.54 H51.9 M325.6 12.54 H320.4 M46.7 11.08 H51.9 M325.6 11.08 H320.4 M46.7 9.81 H51.9 M325.6 9.81 H320.4 M46.7 8.7 H51.9 M325.6 8.7 H320.4" stroke="#000" stroke-width="0.75" fill="none"/>
<path d="M46.7 220 V214.4 M46.7 4.8 V10.4 M46.7 283.3 V277.7 M46.7 230 V235.6 M53.5 220 V217.1 M53.5 4.8 V7.7 M53.5 283.3 V280.4 M53.5 230 V232.9 M60.3 220 V217.1 M60.3 4.8 V7.7 M60.3 283.3 V280.4 M60.3 230 V232.9 M67.1 220 V217.1 M67.1 4.8 V7.7 M67.1 283.3 V280.4 M67.1 230 V232.9 M73.9 220 V214.4 M73.9 4.8 V10.4 M73.9 283.3 V277.7 M73.9 230 V235.6 M80.7 220 V217.1 M80.7 4.8 V7.7 M80.7 283.3 V280.4 M80.7 230 V232.9 M87.5 220 V217.1 M87.5 4.8 V7.7 M87.5 283.3 V280.4 M87.5 230 V232.9 M94.3 220 V217.1 M94.3 4.8 V7.7 M94.3 283.3 V280.4 M94.3 230 V232.9 M101.1 220 V214.4 M101.1 4.8 V10.4 M101.1 283.3 V277.7 M101.1 230 V235.6 M107.9 220 V217.1 M107.9 4.8 V7.7 M107.9 283.3 V280.4 M107.9 230 V232.9 M114.7 220 V217.1 M114.7 4.8 V7.7 M114.7 283.3 V280.4 M114.7 230 V232.9 M121.5 220 V217.1 M121.5 4.8 V7.7 M121.5 283.3 V280.4 M121.5 230 V232.9 M128.3 220 V214.4 M128.3 4.8 V10.4 M128.3 283.3 V277.7 M128.3 230 V235.6 M135.1 220 V217.1 M135.1 4.8 V7.7 M135.1 283.3 V280.4 M135.1 230 V232.9 M141.9 220 V217.1 M141.9 4.8 V7.7 M141.9 283.3 V280.4 M141.9 230 V232.9 M148.7 220 V217.1 M148.7 4.8 V7.7 M148.7 283.3 V280.4 M148.7 230 V232.9 M155.5 220 V214.4 M155.5 4.8 V10.4 M155.5 283.3 V277.7 M155.5 230 V235.6 M162.3 220 V217.1 M162.3 4.8 V7.7 M162.3 283.3 V280.4 M162.3 230 V232.9 M169.1 220 V217.1 M169.1 4.8 V7.7 M169.1 283.3 V280.4 M169.1 230 V232.9 M175.9 220 V217.1 M175.9 4.8 V7.7 M175.9 283.3 V280.4 M175.9 230 V232.9 M182.7 220 V214.4 M182.7 4.8 V10.4 M182.7 283.3 V277.7 M182.7 230 V235.6 M189.5 220 V217.1 M189.5 4.8 V7.7 M189.5 283.3 V280.4 M189.5 230 V232.9 M196.3 220 V217.1 M196.3 4.8 V7.7 M196.3 283.3 V280.4 M196.3 230 V232.9 M203.1 220 V217.1 M203.1 4.8 V7.7 M203.1 283.3 V280.4 M203.1 230 V232.9 M209.9 220 V214.4 M209.9 4.8 V10.4 M209.9 283.3 V277.7 M209.9 230 V235.6 M216.7 220 V217.1 M216.7 4.8 V7.7 M216.7 283.3 V280.4 M216.7 230 V232.9 M223.5 220 V217.1 M223.5 4.8 V7.7 M223.5 283.3 V280.4 M223.5 230 V232.9 M230.3 220 V217.1 M230.3 4.8 V7.7 M230.3 283.3 V280.4 M230.3 230 V232.9 M237.1 220 V214.4 M237.1 4.8 V10.4 M237.1 283.3 V277.7 M237.1 230 V235.6 M243.9 220 V217.1 M243.9 4.8 V7.7 M243.9 283.3 V280.4 M243.9 230 V232.9 M250.7 220 V217.1 M250.7 4.8 V7.7 M250.7 283.3 V280.4 M250.7 230 V232.9 M257.5 220 V217.1 M257.5 4.8 V7.7 M257.5 283.3 V280.4 M257.5 230 V232.9 M264.3 220 V214.4 M264.3 4.8 V10.4 M264.3 283.3 V277.7 M264.3 230 V235.6 M271.1 220 V217.1 M271.1 4.8 V7.7 M271.1 283.3 V280.4 M271.1 230 V232.9 M277.9 220 V217.1 M277.9 4.8 V7.7 M277.9 283.3 V280.4 M277.9 230 V232.9 M284.7 220 V217.1 M284.7 4.8 V7.7 M284.7 283.3 V280.4 M284.7 230 V232.9 M291.5 220 V214.4 M291.5 4.8 V10.4 M291.5 283.3 V277.7 M291.5 230 V235.6 M298.3 220 V217.1 M298.3 4.8 V7.7 M298.3 283.3 V280.4 M298.3 230 V232.9 M305.1 220 V217.1 M305.1 4.8 V7.7 M305.1 283.3 V280.4 M305.1 230 V232.9 M311.9 220 V217.1 M311.9 4.8 V7.7 M311.9 283.3 V280.4 M311.9 230 V232.9 M318.7 220 V214.4 M318.7 4.8 V10.4 M318.7 283.3 V277.7 M318.7 230 V235.6 M46.7 203.9 H56.7 M325.6 203.9 H315.6 M46.7 182.1 H56.7 M325.6 182.1 H315.6 M46.7 160.3 H56.7 M325.6 160.3 H315.6 M46.7 138.5 H56.7 M325.6 138.5 H315.6 M46.7 116.7 H56.7 M325.6 116.7 H315.6 M46.7 94.9 H56.7 M325.6 94.9 H315.6 M46.7 73.1 H56.7 M325.6 73.1 H315.6 M46.7 51.3 H56.7 M325.6 51.3 H315.6 M46.7 29.5 H56.7 M325.6 29.5 H315.6 M46.7 7.7 H56.7 M325.6 7.7 H315.6 M46.7 270.22 H52.7 M325.6 270.22 H319.6 M46.7 257 H52.7 M325.6 257 H319.6 M46.7 243.77 H52.7 M325.6 243.77 H319.6" stroke="#000" stroke-width="1" fill="none"/>
<g stroke="#000" stroke-width="1.2" fill="none">
<rect x="46.7" y="4.8" width="278.9" height="215.2"/>
<rect x="46.7" y="230" width="278.9" height="53.3"/>
</g>
<path d="M175.9 220.1 H318.7" stroke="#3838d0" stroke-width="1.4" stroke-opacity="0.95" fill="none"/>
<path d="M46.7 283.6 H325.6" stroke="#2626c8" stroke-width="1" stroke-opacity="0.45" fill="none"/>
<g font-family="Liberation Sans, sans-serif" fill="#000">
<text x="41.2" y="208.2" font-size="10.5" text-anchor="end">1</text>
<text x="41.2" y="186.4" font-size="10.5" text-anchor="end">10</text>
<text x="36.4" y="165.3" font-size="10.5" text-anchor="end">10</text>
<text x="37.0" y="159.7" font-size="7.4">2</text>
<text x="36.4" y="143.5" font-size="10.5" text-anchor="end">10</text>
<text x="37.0" y="137.9" font-size="7.4">3</text>
<text x="36.4" y="121.7" font-size="10.5" text-anchor="end">10</text>
<text x="37.0" y="116.1" font-size="7.4">4</text>
<text x="36.4" y="99.9" font-size="10.5" text-anchor="end">10</text>
<text x="37.0" y="94.3" font-size="7.4">5</text>
<text x="36.4" y="78.1" font-size="10.5" text-anchor="end">10</text>
<text x="37.0" y="72.5" font-size="7.4">6</text>
<text x="36.4" y="56.3" font-size="10.5" text-anchor="end">10</text>
<text x="37.0" y="50.7" font-size="7.4">7</text>
<text x="36.4" y="34.5" font-size="10.5" text-anchor="end">10</text>
<text x="37.0" y="28.9" font-size="7.4">8</text>
<text x="36.4" y="12.7" font-size="10.5" text-anchor="end">10</text>
<text x="37.0" y="7.1" font-size="7.4">9</text>
<text x="42.2" y="287.5" font-size="11.1" text-anchor="end">0</text>
<text x="42.2" y="274.3" font-size="11.1" text-anchor="end">0.5</text>
<text x="42.2" y="261.1" font-size="11.1" text-anchor="end">1</text>
<text x="42.2" y="248" font-size="11.1" text-anchor="end">1.5</text>
<text x="42.2" y="234.9" font-size="11.1" text-anchor="end">2</text>
<text x="46.1" y="295.5" font-size="11.3" text-anchor="middle">0</text>
<text x="73.3" y="295.5" font-size="11.3" text-anchor="middle">2</text>
<text x="100.5" y="295.5" font-size="11.3" text-anchor="middle">4</text>
<text x="127.7" y="295.5" font-size="11.3" text-anchor="middle">6</text>
<text x="154.9" y="295.5" font-size="11.3" text-anchor="middle">8</text>
<text x="182.1" y="295.5" font-size="11.3" text-anchor="middle">10</text>
<text x="209.3" y="295.5" font-size="11.3" text-anchor="middle">12</text>
<text x="236.5" y="295.5" font-size="11.3" text-anchor="middle">14</text>
<text x="263.7" y="295.5" font-size="11.3" text-anchor="middle">16</text>
<text x="290.9" y="295.5" font-size="11.3" text-anchor="middle">18</text>
<text x="318.1" y="295.5" font-size="11.3" text-anchor="middle">20</text>
<text transform="translate(11.1 67.6) rotate(-90)" font-size="12.1">Events / 0.5</text>
<text transform="translate(11.4 285.7) rotate(-90)" font-size="13.3">Data/MC</text>
<text x="57.8" y="22.9" font-size="13.4" font-weight="bold" font-style="italic">ATLAS</text>
<path d="M58.4 34.6 L59.4 34.0 L60.9 39.2 L62.6 30.1 H66.6" stroke="#000" stroke-width="0.8" fill="none"/>
<text x="63.5" y="39.2" font-size="11.8" textLength="93.4" lengthAdjust="spacingAndGlyphs">s = 8 TeV, 20.3 fb</text>
<text x="158.4" y="33.6" font-size="7.6">-1</text>
<text x="152.3" y="315.4" font-size="13.3" textLength="75.5" lengthAdjust="spacingAndGlyphs">TST 0.44 * E</text>
<text x="227.7" y="307.8" font-size="8.3">miss</text>
<text x="228" y="320.1" font-size="8.3">T</text>
<text x="249" y="315.4" font-size="13.3">/</text>
<path d="M257.6 307.9 L258.6 307.3 L260.8 319.2 L263 301.3 H325.3" stroke="#111" stroke-width="1" fill="none" stroke-linejoin="miter"/>
<text x="264.1" y="315.4" font-size="13.6" style="font-family:'Liberation Serif',serif">&#931;</text>
<text x="277.3" y="315.4" font-size="13.3">E</text>
<text x="285.6" y="320.1" font-size="8.3">T</text>
<text x="290.7" y="315.4" font-size="13.3" textLength="35.7" lengthAdjust="spacingAndGlyphs">(TST)</text>
</g>
<g font-family="Liberation Sans, sans-serif" fill="#000" font-size="13.1">
<path d="M234.2 23.5 H251.6" stroke="#000" stroke-width="1"/>
<circle cx="242.9" cy="23.5" r="3.3" fill="#000"/>
<text x="255.3" y="27.5" textLength="61.2" lengthAdjust="spacingAndGlyphs">Data 2012</text>
<rect x="234" y="36.3" width="17.9" height="13" fill="url(#hatchL)"/>
<circle cx="242.9" cy="42.8" r="3.4" fill="#000"/>
<rect x="234" y="36.3" width="17.9" height="13" fill="url(#hatchL)" fill-opacity="0.28"/>
<text x="255.3" y="47.1" textLength="60" lengthAdjust="spacingAndGlyphs">Syst. Unc.</text>
<rect x="233.9" y="55.8" width="17.9" height="13" fill="#996699"/>
<text x="255.3" y="66.1">Z</text>
<path d="M264.2 62.3 H275.6 M273 60.3 L275.8 62.3 L273 64.3" stroke="#333" stroke-width="0.7" fill="none"/>
<text x="276.6" y="66" font-size="13.4" fill="#333" style="font-family:'Liberation Serif',serif">&#956;&#956;</text>
<rect x="233.9" y="74.6" width="17.9" height="13.6" fill="#ccff99"/>
<text x="255.3" y="86.2">tt</text>
<path d="M259.4 76.2 H262.2" stroke="#000" stroke-width="0.8"/>
<rect x="233.9" y="94.1" width="17.9" height="13.5" fill="#6699ff"/>
<text x="255.3" y="105.2">VV</text>
</g>
</g>
<g font-family="Liberation Serif, serif" font-weight="bold" font-size="15.6" fill="#000">
<text x="180.2" y="337.5" text-anchor="middle" style="font-family:'Liberation Serif',serif">(a)</text>
<text x="542.9" y="337.5" text-anchor="middle" style="font-family:'Liberation Serif',serif">(b)</text>
</g>
</svg></body></html>
